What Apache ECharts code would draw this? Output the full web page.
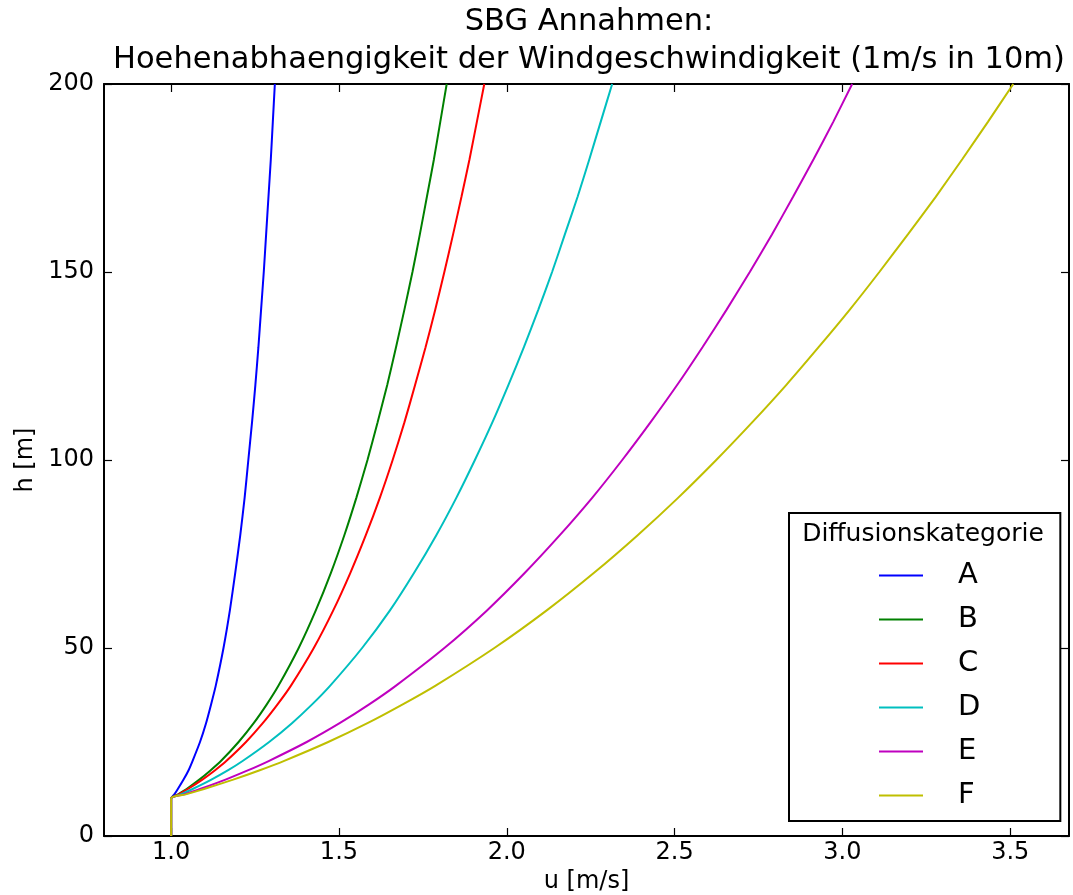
<!DOCTYPE html>
<html>
<head>
<meta charset="utf-8">
<script src="https://cdn.jsdelivr.net/npm/echarts@6/dist/echarts.min.js"></script>
<style>
html,body{margin:0;padding:0;background:#fff;}
#chart{width:1073px;height:895px;}
</style>
</head>
<body>
<div id="chart"></div>
<script>
var heights = [0, 10, 11, 12.5, 15, 17.5, 20, 25, 30, 35, 40, 50, 60, 70, 80, 90, 100, 110, 120, 130, 140, 150, 160, 170, 180, 190, 200];
// Wind speed u (m/s) for each diffusion category
var uA = [1, 1, 1.009, 1.020, 1.037, 1.052, 1.064, 1.086, 1.104, 1.119, 1.133, 1.156, 1.175, 1.191, 1.206, 1.219, 1.230, 1.241, 1.251, 1.260, 1.268, 1.276, 1.283, 1.290, 1.297, 1.303, 1.309];
var uB = [1, 1, 1.019, 1.046, 1.084, 1.118, 1.149, 1.201, 1.246, 1.285, 1.320, 1.380, 1.431, 1.476, 1.516, 1.552, 1.585, 1.615, 1.644, 1.670, 1.695, 1.719, 1.741, 1.762, 1.783, 1.802, 1.821];
var uC = [1, 1, 1.021, 1.050, 1.093, 1.131, 1.165, 1.223, 1.273, 1.317, 1.357, 1.425, 1.483, 1.534, 1.580, 1.622, 1.660, 1.695, 1.727, 1.758, 1.787, 1.814, 1.840, 1.865, 1.889, 1.911, 1.933];
var uD = [1, 1, 1.027, 1.064, 1.120, 1.170, 1.214, 1.292, 1.360, 1.420, 1.474, 1.569, 1.652, 1.724, 1.790, 1.850, 1.905, 1.957, 2.005, 2.051, 2.094, 2.135, 2.173, 2.211, 2.246, 2.280, 2.314];
var uE = [1, 1, 1.036, 1.086, 1.162, 1.230, 1.292, 1.404, 1.502, 1.590, 1.670, 1.814, 1.941, 2.054, 2.158, 2.255, 2.344, 2.428, 2.508, 2.583, 2.655, 2.724, 2.790, 2.853, 2.914, 2.973, 3.029];
var uF = [1, 1, 1.041, 1.098, 1.185, 1.264, 1.337, 1.468, 1.585, 1.690, 1.788, 1.963, 2.119, 2.260, 2.390, 2.511, 2.624, 2.731, 2.833, 2.929, 3.022, 3.110, 3.195, 3.278, 3.357, 3.434, 3.509];
var categories = ['A', 'B', 'C', 'D', 'E', 'F'];
var colors = ['#0000ff', '#008000', '#ff0000', '#00bfbf', '#bf00bf', '#bfbf00'];
var xTicks = [1.0, 1.5, 2.0, 2.5, 3.0, 3.5];
var yTicks = [0, 50, 100, 150, 200];
var titleLines = ['SBG Annahmen:', 'Hoehenabhaengigkeit der Windgeschwindigkeit (1m/s in 10m)'];
var xName = 'u [m/s]';
var yName = 'h [m]';
var legendTitle = 'Diffusionskategorie';

var FONT = 'DejaVu Sans';
var uSeries = [uA, uB, uC, uD, uE, uF];

function pairs(u) {
  return u.map(function (v, i) { return [v, heights[i]]; });
}

var series = categories.map(function (c, i) {
  return {
    name: c,
    type: 'line',
    data: pairs(uSeries[i]),
    showSymbol: false,
    symbol: 'none',
    smooth: 0.2,
    lineStyle: { color: colors[i], width: 2 },
    itemStyle: { color: colors[i] },
    xAxisIndex: 0,
    yAxisIndex: 0,
    animation: false
  };
});

function xAxisDef(pos, showLabels) {
  return {
    type: 'value',
    position: pos,
    min: 0.8,
    max: 3.675,
    name: showLabels ? xName : '',
    nameLocation: 'middle',
    nameGap: 34,
    nameTextStyle: { fontFamily: FONT, fontSize: 24, color: '#000', verticalAlign: 'top' },
    axisLine: { show: true, onZero: false, lineStyle: { color: '#000', width: 2 } },
    axisTick: { show: true, inside: true, length: 8, customValues: xTicks, lineStyle: { color: '#000', width: 1.2 } },
    axisLabel: { show: showLabels, customValues: xTicks, margin: 5, fontFamily: FONT, fontSize: 24, color: '#000',
      formatter: function (v) { return Number(v).toFixed(1); } },
    splitLine: { show: false }
  };
}
function yAxisDef(pos, showLabels) {
  return {
    type: 'value',
    position: pos,
    min: 0,
    max: 200,
    interval: 50,
    name: showLabels ? yName : '',
    nameLocation: 'middle',
    nameGap: 60,
    nameTextStyle: { fontFamily: FONT, fontSize: 24, color: '#000' },
    axisLine: { show: true, onZero: false, lineStyle: { color: '#000', width: 2 } },
    axisTick: { show: true, inside: true, length: 8, customValues: yTicks, lineStyle: { color: '#000', width: 1.2 } },
    axisLabel: { show: showLabels, customValues: yTicks, margin: 10, fontFamily: FONT, fontSize: 24, color: '#000' },
    splitLine: { show: false }
  };
}

var chart = echarts.init(document.getElementById('chart'), null, { renderer: 'canvas' });
chart.setOption({
  animation: false,
  backgroundColor: '#fff',
  grid: { left: 104, right: 4, top: 84, bottom: 59, containLabel: false, outerBoundsMode: 'none' },
  xAxis: [xAxisDef('bottom', true), xAxisDef('top', false)],
  yAxis: [yAxisDef('left', true), yAxisDef('right', false)],
  legend: {
    orient: 'vertical',
    left: 789,
    top: 513,
    padding: [45, 80, 8, 90],
    itemGap: 9,
    itemWidth: 44,
    itemHeight: 2,
    icon: 'rect',
    borderColor: '#000',
    borderWidth: 2,
    backgroundColor: '#fff',
    data: categories,
    textStyle: { fontFamily: FONT, fontSize: 29, color: '#000', lineHeight: 35, padding: [0, 0, 0, 30] }
  },
  graphic: [
    { type: 'text', x: 589, y: 22, style: { text: titleLines[0], fontFamily: FONT, fontSize: 30.5, fill: '#000', textAlign: 'center', textVerticalAlign: 'middle' }, z: 100 },
    { type: 'text', x: 589, y: 60, style: { text: titleLines[1], fontFamily: FONT, fontSize: 30.5, fill: '#000', textAlign: 'center', textVerticalAlign: 'middle' }, z: 100 },
    { type: 'text', x: 923, y: 534, style: { text: legendTitle, fontFamily: FONT, fontSize: 25, fill: '#000', textAlign: 'center', textVerticalAlign: 'middle' }, z: 100 }
  ],
  series: series
});
</script>
</body>
</html>
